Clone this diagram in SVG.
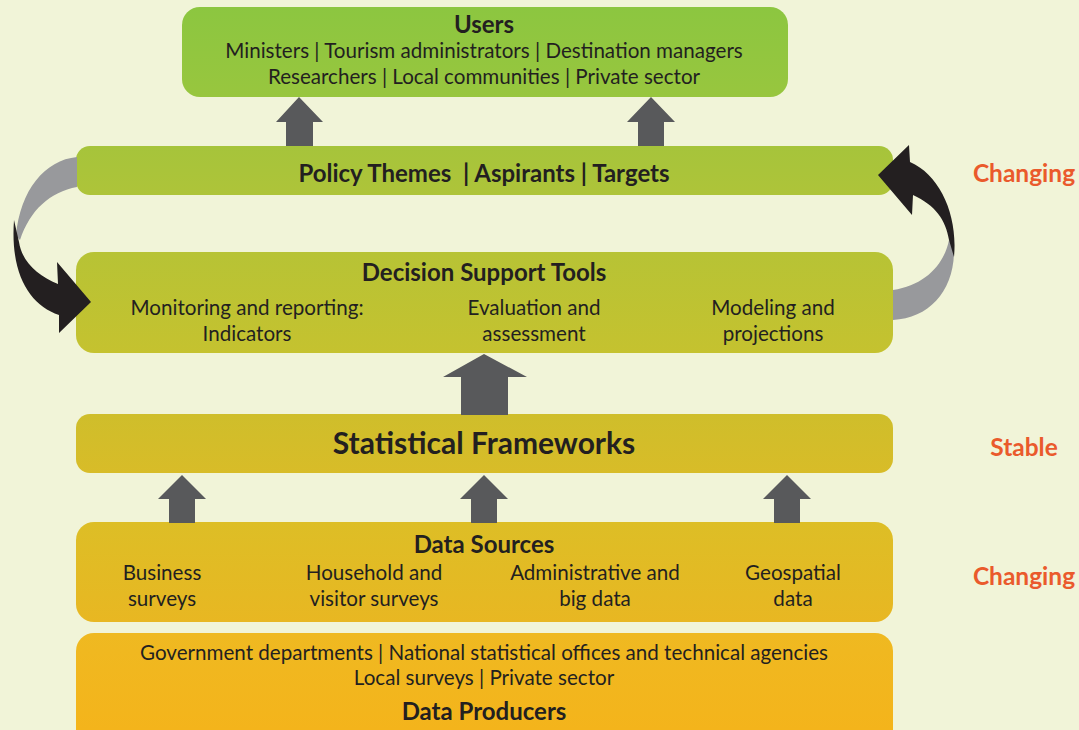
<svg xmlns="http://www.w3.org/2000/svg" width="1079" height="730" viewBox="0 0 1079 730">
<defs>
<linearGradient id="gUsers" x1="0" y1="0" x2="0" y2="1"><stop offset="0" stop-color="#8cc640"/><stop offset="1" stop-color="#98c63e"/></linearGradient>
<linearGradient id="gPolicy" x1="0" y1="0" x2="0" y2="1"><stop offset="0" stop-color="#a6c43b"/><stop offset="1" stop-color="#aec439"/></linearGradient>
<linearGradient id="gDecision" x1="0" y1="0" x2="0" y2="1"><stop offset="0" stop-color="#b7c335"/><stop offset="1" stop-color="#c5c22f"/></linearGradient>
<linearGradient id="gStat" x1="0" y1="0" x2="0" y2="1"><stop offset="0" stop-color="#cfbe2b"/><stop offset="1" stop-color="#d8bc28"/></linearGradient>
<linearGradient id="gSources" x1="0" y1="0" x2="0" y2="1"><stop offset="0" stop-color="#ddbe26"/><stop offset="1" stop-color="#e8b722"/></linearGradient>
<linearGradient id="gProducers" x1="0" y1="0" x2="0" y2="1"><stop offset="0" stop-color="#efb921"/><stop offset="1" stop-color="#f5b31a"/></linearGradient>
</defs>
<style>
text{font-family:Lato,"Open Sans","DejaVu Sans",sans-serif;fill:#231f20;text-anchor:middle}
.t{font-size:20.6px}
.b{font-size:24px;font-weight:bold}
.big{font-size:30px;font-weight:bold}
.side{font-size:24.5px;font-weight:bold;fill:#ea5a2c}
.up{fill:#58595b}
</style>
<rect width="1079" height="730" fill="#f1f4d8"/>

<g id="users">
<rect x="182" y="7" width="606" height="90" rx="18" fill="url(#gUsers)"/>
<text class="b" x="484" y="33">Users</text>
<text class="t" x="484" y="58">Ministers | Tourism administrators | Destination managers</text>
<text class="t" x="484" y="84">Researchers | Local communities | Private sector</text>
</g>

<g id="policy">
<rect x="76" y="146" width="817" height="49" rx="14" fill="url(#gPolicy)"/>
<text class="b" x="484" y="182">Policy Themes&#160; | Aspirants | Targets</text>
</g>

<g id="decision">
<rect x="76" y="252" width="817" height="101" rx="18" fill="url(#gDecision)"/>
<text class="b" x="484" y="281">Decision Support Tools</text>
<text class="t" x="247" y="315">Monitoring and reporting:</text>
<text class="t" x="247" y="341">Indicators</text>
<text class="t" x="534" y="315">Evaluation and</text>
<text class="t" x="534" y="341">assessment</text>
<text class="t" x="773" y="315">Modeling and</text>
<text class="t" x="773" y="341">projections</text>
</g>

<g id="statistical">
<rect x="76" y="414" width="817" height="59" rx="14" fill="url(#gStat)"/>
<text class="big" x="484" y="454">Statistical Frameworks</text>
</g>

<g id="sources">
<rect x="76" y="522" width="817" height="100" rx="18" fill="url(#gSources)"/>
<text class="b" x="484" y="553">Data Sources</text>
<text class="t" x="162" y="580">Business</text>
<text class="t" x="162" y="606">surveys</text>
<text class="t" x="374" y="580">Household and</text>
<text class="t" x="374" y="606">visitor surveys</text>
<text class="t" x="595" y="580">Administrative and</text>
<text class="t" x="595" y="606">big data</text>
<text class="t" x="793" y="580">Geospatial</text>
<text class="t" x="793" y="606">data</text>
</g>

<g id="producers">
<rect x="76" y="633" width="817" height="115" rx="18" fill="url(#gProducers)"/>
<text class="t" x="484" y="660">Government departments | National statistical offices and technical agencies</text>
<text class="t" x="484" y="685">Local surveys | Private sector</text>
<text class="b" x="484" y="720">Data Producers</text>
</g>

<g id="labels">
<text class="side" x="1024" y="182">Changing</text>
<text class="side" x="1024" y="456">Stable</text>
<text class="side" x="1024" y="585">Changing</text>
</g>

<g id="connectors">
<polygon class="up" points="299,97 323,122 313,122 313,146 286,146 286,122 276,122"/>
<polygon class="up" points="651,97 675,122 664,122 664,146 638,146 638,122 627,122"/>
<polygon class="up" points="484,354 527,377 508,377 508,415 461,415 461,377 443,377"/>
<polygon class="up" points="182,475 206,499 195,499 195,523 169,523 169,499 158,499"/>
<polygon class="up" points="484,475 508,499 497,499 497,523 471,523 471,499 460,499"/>
<polygon class="up" points="787,475 811,499 800,499 800,523 774,523 774,499 763,499"/>
<path d="M77,157 C45,160 20,190 16,236 L20,240 C30,210 50,192 77,187 Z" fill="#98999c"/>
<path d="M14,220 C10,275 30,305 59,315 L59,333 L91,302 L57,262 L58,284 C38,276 22,262 19,242 Z" fill="#231f20"/>
<path d="M893,290 C925,285 944,265 949,240 L954,248 C955,290 930,318 893,320 Z" fill="#98999c"/>
<path d="M954,257 C958,215 940,175 910,162 L909,145 L878,175 L912,215 L913,195 C935,205 946,220 949,240 Z" fill="#231f20"/>
</g>
</svg>
